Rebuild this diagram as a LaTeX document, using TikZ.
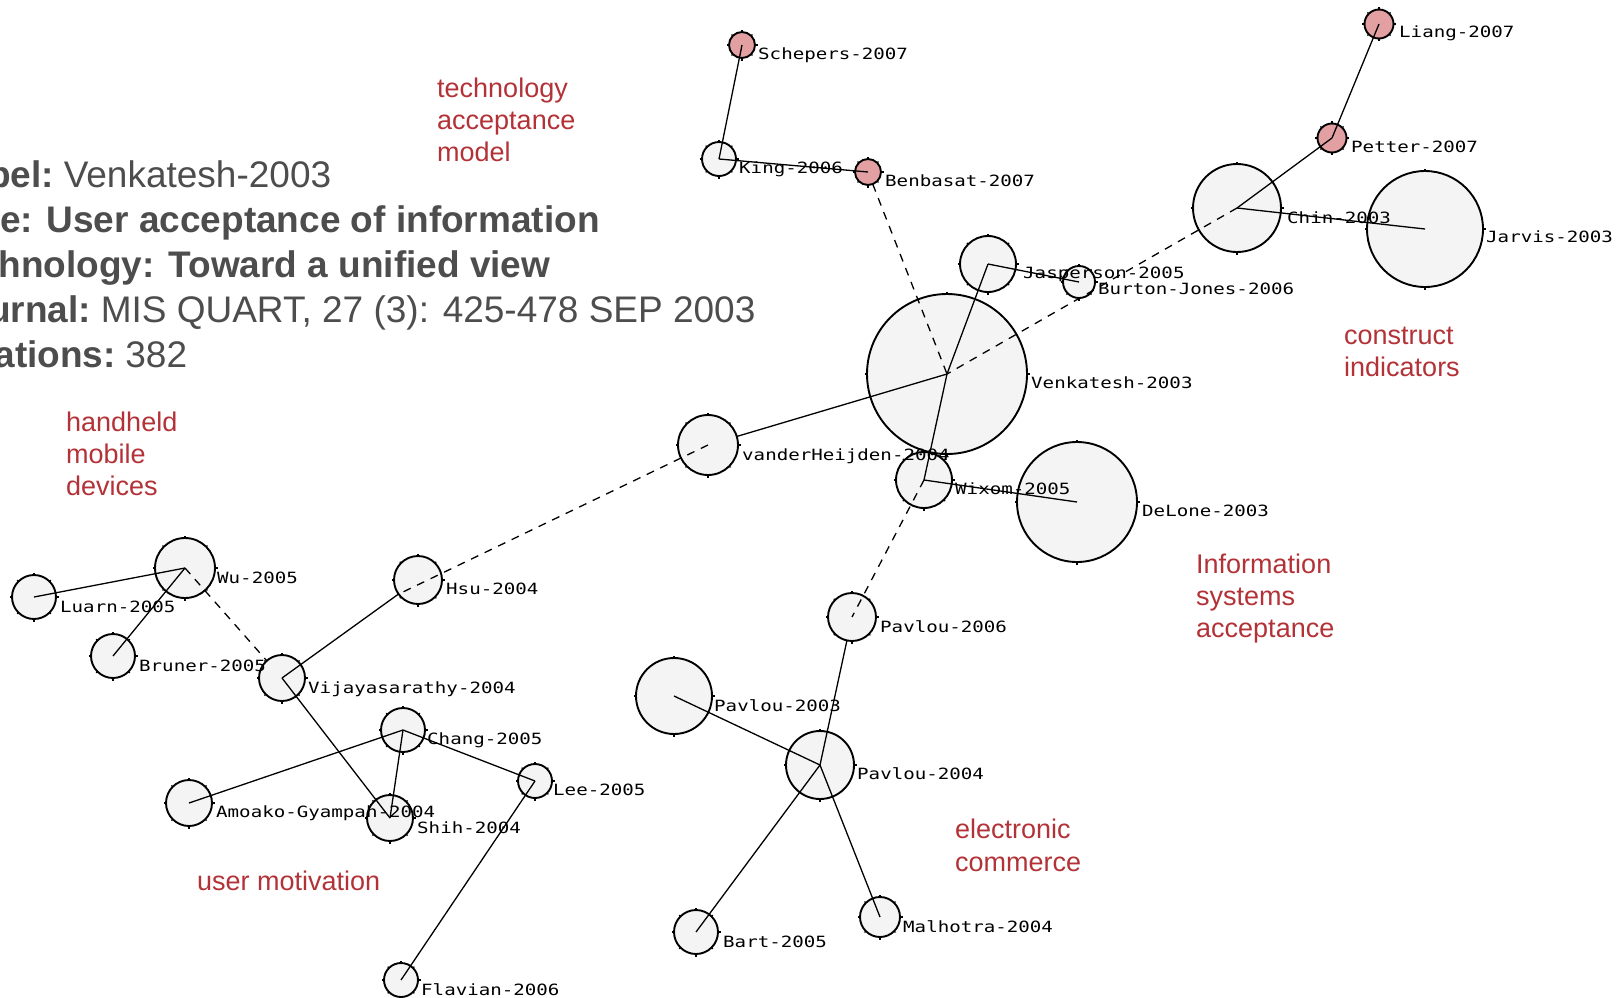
\documentclass[tikz,border=0pt]{standalone}
\usepackage{fontspec}
\setmainfont{Liberation Sans}
\newfontfamily\pixelmono{DejaVu Sans Mono}[FakeStretch=1.235]
\definecolor{paperfill}{RGB}{244,244,244}
\definecolor{recentfill}{RGB}{226,160,163}
\definecolor{topicred}{RGB}{178,50,55}
\definecolor{infogray}{RGB}{77,77,77}
\newcommand{\gapsp}{\hspace{0.26em}}

\begin{document}
\begin{tikzpicture}[x=1pt,y=-1pt,
  paper/.style={circle,draw=black,line width=1.9pt,fill=paperfill,inner sep=0pt,outer sep=0pt,minimum size=#1},
  recent/.style={paper=#1,fill=recentfill},
  link/.style={line width=1.3pt,black},
  xlink/.style={link,dash pattern=on 8pt off 7pt},
  nub/.style={line width=1.3pt},
  paperlabel/.style={font=\pixelmono\fontsize{15.5}{18}\selectfont,inner sep=0pt,anchor=base west},
  topic/.style={font=\fontsize{27}{32}\selectfont,text=topicred,inner sep=0pt,anchor=base west},
  info/.style={font=\fontsize{37}{45}\selectfont,text=infogray,inner sep=0pt,anchor=base west}
]
\useasboundingbox (0,0) rectangle (1623,997);

% citation summary of the selected paper
\node[info] (infoLabel) at (-55,187) {\textbf{Label:}\gapsp Venkatesh-2003};
\node[info] (infoTitle) at (-55,232) {\textbf{Title: User acceptance of information}};
\node[info] (infoTitleB) at (-55,277) {\textbf{technology: Toward a unified view}};
\node[info] (infoJournal) at (-55,322) {\textbf{Journal:}\gapsp MIS QUART, 27 (3): 425-478 SEP 2003};
\node[info] (infoCites) at (-55,367) {\textbf{Citations:}\gapsp 382};

% papers
\node[recent=26pt] (sch) at (742,45) {};
\node[paper=34pt] (king) at (719,159) {};
\node[recent=26pt] (benb) at (868,172) {};
\node[recent=29pt] (liang) at (1379,24) {};
\node[recent=29pt] (pet) at (1332,138) {};
\node[paper=88pt] (chin) at (1237,208) {};
\node[paper=116pt] (jar) at (1425,229) {};
\node[paper=56pt] (jas) at (988,264) {};
\node[paper=32pt] (bj) at (1079,282) {};
\node[paper=160pt] (ven) at (947,374) {};
\node[paper=60pt] (vh) at (708,445) {};
\node[paper=56pt] (wix) at (924,480) {};
\node[paper=120pt] (del) at (1077,502) {};
\node[paper=48pt] (p06) at (852,617) {};
\node[paper=76pt] (p03) at (674,696) {};
\node[paper=68pt] (p04) at (820,765) {};
\node[paper=44pt] (bart) at (696,932) {};
\node[paper=40pt] (mal) at (880,917) {};
\node[paper=48pt] (hsu) at (418,580) {};
\node[paper=60pt] (wu) at (185,568) {};
\node[paper=44pt] (luarn) at (34,597) {};
\node[paper=44pt] (bruner) at (113,656) {};
\node[paper=46pt] (vija) at (282,678) {};
\node[paper=44pt] (chang) at (403,730) {};
\node[paper=34pt] (lee) at (535,781) {};
\node[paper=46pt] (amo) at (189,803) {};
\node[paper=46pt] (shih) at (390,818) {};
\node[paper=34pt] (flav) at (401,980) {};

% small nubs on the circle outlines
\foreach \n in {sch,king,benb,liang,pet,chin,jar,jas,bj,ven,vh,wix,del,p06,p03,p04,bart,mal,hsu,wu,luarn,bruner,vija,chang,lee,amo,shih,flav}
  {\foreach \a in {0,90,180,270} \draw[nub] (\n.\a) -- ++(\a:2.5pt);}
\foreach \n in {sch,king,benb,liang,pet,jas,bj,vh,wix,p06,bart,mal,hsu,wu,luarn,bruner,vija,chang,lee,amo,shih,flav}
  {\foreach \a in {45,135,225,315} \draw[nub] (\n.\a) -- ++(\a:1.8pt);}

% citation links
\draw[link] (sch.center) -- (king.center);
\draw[link] (king.center) -- (benb.center);
\draw[xlink] (benb) -- (ven.center);
\draw[link] (liang.center) -- (pet.center);
\draw[link] (pet.center) -- (chin.center);
\draw[link] (chin.center) -- (jar.center);
\draw[xlink] (chin.center) -- (ven.center);
\draw[link] (jas.center) -- (bj.center);
\draw[link] (jas.center) -- (ven.center);
\draw[link] (ven.center) -- (wix.center);
\draw[link] (ven.center) -- (vh);
\draw[xlink] (vh.center) -- (hsu.216);
\draw[link] (vija.center) -- (hsu);
\draw[link] (wix.center) -- (del.center);
\draw[xlink] (wix.center) -- (p06.center);
\draw[link] (p04.center) -- (p06);
\draw[link] (p03.center) -- (p04.center);
\draw[link] (p04.center) -- (bart.center);
\draw[link] (p04.center) -- (mal.center);
\draw[link] (wu.center) -- (luarn.center);
\draw[link] (wu.center) -- (bruner.center);
\draw[xlink] (wu.center) -- (vija);
\draw[link] (vija.center) -- (shih.center);
\draw[link] (chang.center) -- (amo.center);
\draw[link] (chang.center) -- (shih.center);
\draw[link] (chang.center) -- (lee.center);
\draw[link] (lee.center) -- (flav.center);

% paper labels
\node[paperlabel] (tsch) at (758,59) {Schepers-2007};
\node[paperlabel] (tking) at (739,173) {King-2006};
\node[paperlabel] (tbenb) at (885,186) {Benbasat-2007};
\node[paperlabel] (tliang) at (1399,37) {Liang-2007};
\node[paperlabel] (tpet) at (1351,152) {Petter-2007};
\node[paperlabel] (tchin) at (1287,223) {Chin-2003};
\node[paperlabel] (tjar) at (1486,242) {Jarvis-2003};
\node[paperlabel] (tjas) at (1023,278) {Jasperson-2005};
\node[paperlabel] (tbj) at (1098,294) {Burton-Jones-2006};
\node[paperlabel] (tven) at (1031,388) {Venkatesh-2003};
\node[paperlabel] (tvh) at (742,460) {vanderHeijden-2004};
\node[paperlabel] (twix) at (955,494) {Wixom-2005};
\node[paperlabel] (tdel) at (1142,516) {DeLone-2003};
\node[paperlabel] (twu) at (217,583) {Wu-2005};
\node[paperlabel] (tluarn) at (60,612) {Luarn-2005};
\node[paperlabel] (tbruner) at (139,671) {Bruner-2005};
\node[paperlabel] (tvija) at (308,693) {Vijayasarathy-2004};
\node[paperlabel] (thsu) at (446,594) {Hsu-2004};
\node[paperlabel] (tchang) at (427,744) {Chang-2005};
\node[paperlabel] (tamo) at (216,817) {Amoako-Gyampah-2004};
\node[paperlabel] (tp06) at (880,632) {Pavlou-2006};
\node[paperlabel] (tp03) at (714,711) {Pavlou-2003};
\node[paperlabel] (tp04) at (857,779) {Pavlou-2004};
\node[paperlabel] (tbart) at (723,947) {Bart-2005};
\node[paperlabel] (tmal) at (903,932) {Malhotra-2004};
\node[paperlabel] (tlee) at (553,795) {Lee-2005};
\node[paperlabel] (tshih) at (417,833) {Shih-2004};
\node[paperlabel] (tflav) at (421,995) {Flavian-2006};

% cluster topics
\node[topic] (tam1) at (437,97) {technology};
\node[topic] (tam2) at (437,129) {acceptance};
\node[topic] (tam3) at (437,161) {model};
\node[topic] (hmd1) at (66,431) {handheld};
\node[topic] (hmd2) at (66,463) {mobile};
\node[topic] (hmd3) at (66,495) {devices};
\node[topic] (ci1) at (1344,344) {construct};
\node[topic] (ci2) at (1344,376) {indicators};
\node[topic] (isa1) at (1196,573) {Information};
\node[topic] (isa2) at (1196,605) {systems};
\node[topic] (isa3) at (1196,637) {acceptance};
\node[topic] (ec1) at (955,838) {electronic};
\node[topic] (ec2) at (955,871) {commerce};
\node[topic] (um) at (197,890) {user motivation};
\end{tikzpicture}
\end{document}
